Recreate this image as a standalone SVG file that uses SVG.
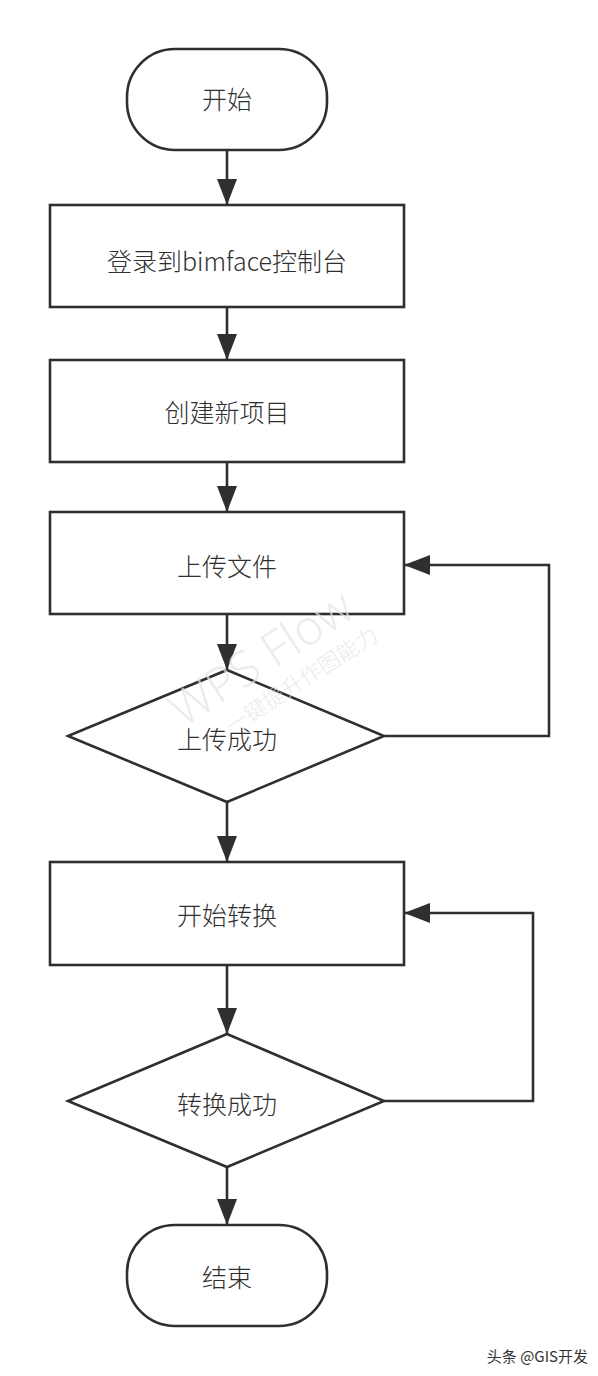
<svg xmlns="http://www.w3.org/2000/svg" width="598" height="1376" viewBox="0 0 598 1376">
<style>
.n{fill:#fff;stroke:#2f2f2f;stroke-width:2.6}
.t{font-family:"Noto Sans CJK SC","Noto Sans",sans-serif;font-size:25px;font-weight:300;fill:#2f2f2f;text-anchor:middle}
.c{fill:none;stroke:#2f2f2f;stroke-width:2.6}
.wm{font-family:"Open Sans","Noto Sans CJK SC",sans-serif;font-weight:300;fill:#e2e2e2;fill-opacity:0.7}
</style>
<defs>
<marker id="ah" viewBox="0 0 26 20" refX="26" refY="10" markerWidth="26" markerHeight="20" orient="auto" markerUnits="userSpaceOnUse">
<path d="M0,0 L26,10 L0,20 Z" fill="#2f2f2f"/>
</marker>
</defs>
<rect width="598" height="1376" fill="#fff"/>
<g id="connectors">
<line class="c" x1="227" y1="150" x2="227" y2="205" marker-end="url(#ah)"/>
<line class="c" x1="227" y1="307" x2="227" y2="360" marker-end="url(#ah)"/>
<line class="c" x1="227" y1="462" x2="227" y2="512" marker-end="url(#ah)"/>
<line class="c" x1="227" y1="614" x2="227" y2="670" marker-end="url(#ah)"/>
<polyline class="c" points="384,736 549,736 549,565 404,565" marker-end="url(#ah)"/>
<line class="c" x1="227" y1="802" x2="227" y2="862" marker-end="url(#ah)"/>
<line class="c" x1="227" y1="965" x2="227" y2="1034" marker-end="url(#ah)"/>
<polyline class="c" points="384,1101 533,1101 533,913 404,913" marker-end="url(#ah)"/>
<line class="c" x1="227" y1="1167" x2="227" y2="1225" marker-end="url(#ah)"/>
</g>
<g id="start">
<rect class="n" x="127" y="49" width="200" height="101" rx="48" ry="48"/>
<text class="t" x="227" y="109">开始</text>
</g>
<g id="login">
<rect class="n" x="50" y="205" width="354" height="102"/>
<text class="t" x="227" y="271">登录到bimface控制台</text>
</g>
<g id="create">
<rect class="n" x="50" y="360" width="354" height="102"/>
<text class="t" x="227" y="422">创建新项目</text>
</g>
<g id="upload">
<rect class="n" x="50" y="512" width="354" height="102"/>
<text class="t" x="227" y="576">上传文件</text>
</g>
<g id="uploadOk">
<polygon class="n" points="227,670 384,736 227,802 68,736"/>
<text class="t" x="227" y="749">上传成功</text>
</g>
<g id="convert">
<rect class="n" x="50" y="862" width="354" height="103"/>
<text class="t" x="227" y="925">开始转换</text>
</g>
<g id="convertOk">
<polygon class="n" points="227,1034 384,1101 227,1167 68,1101"/>
<text class="t" x="227" y="1114">转换成功</text>
</g>
<g id="end">
<rect class="n" x="127" y="1225" width="200" height="101" rx="48" ry="48"/>
<text class="t" x="227" y="1287">结束</text>
</g>
<g id="watermark" transform="rotate(-33 270 672)">
<text class="wm" x="270" y="672" font-size="48" text-anchor="middle">WPS Flow</text>
<text class="wm" x="292" y="704" font-size="22" text-anchor="middle">一键提升作图能力</text>
</g>
<text x="588" y="1362" font-family="Noto Sans CJK SC, sans-serif" font-size="15" fill="#333" text-anchor="end">头条 @GIS开发</text>
</svg>
